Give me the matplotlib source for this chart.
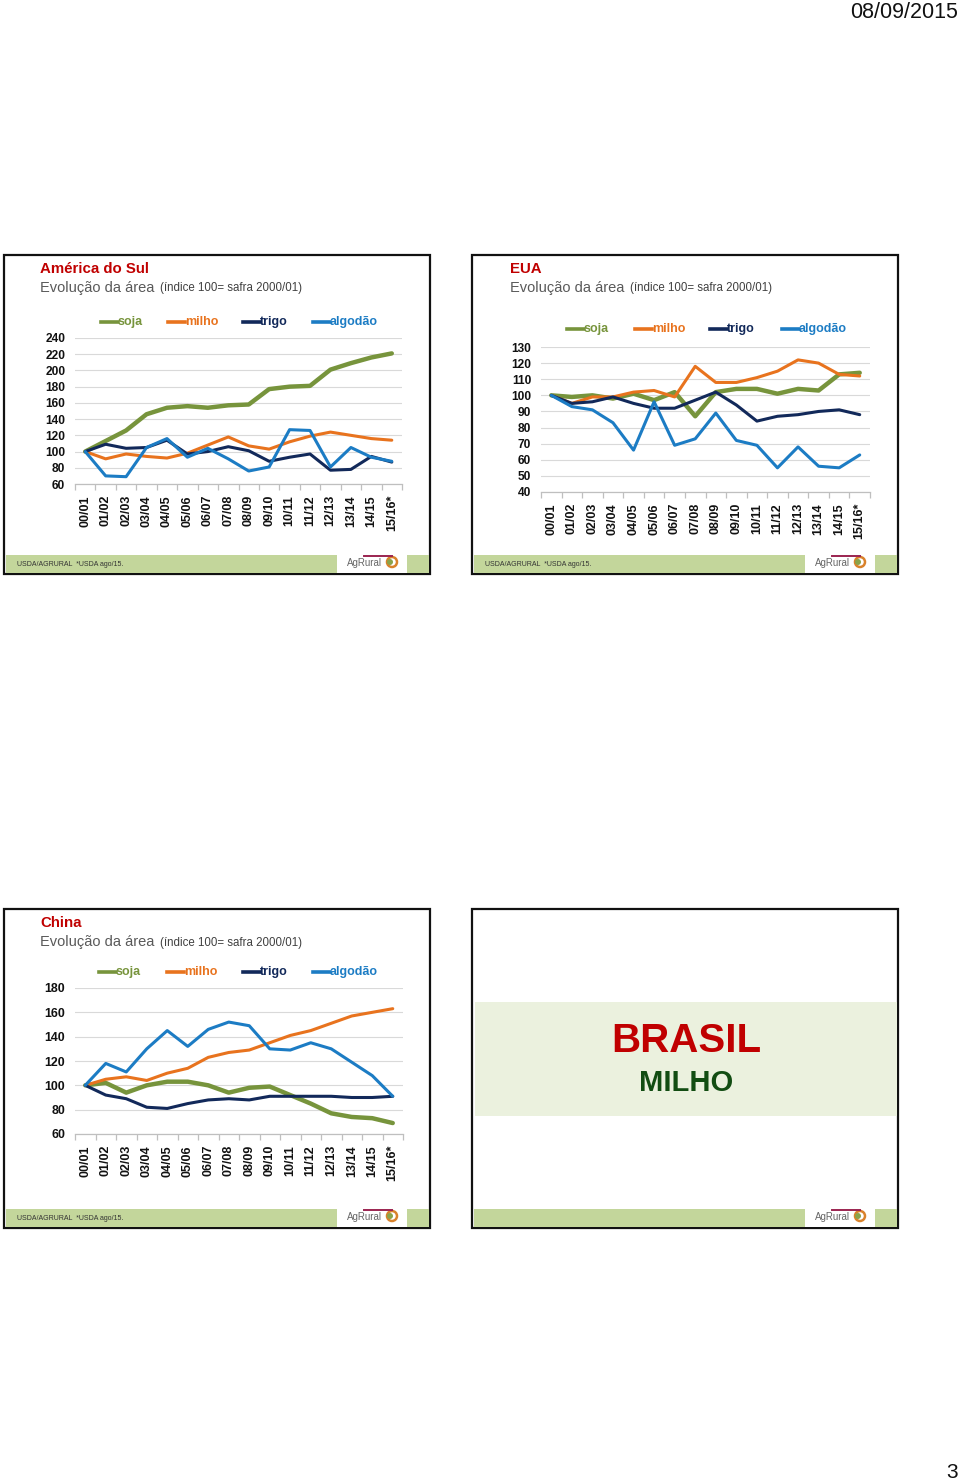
import matplotlib
matplotlib.use('Agg')
import numpy as np
import matplotlib.pyplot as plt
from matplotlib.patches import Rectangle, Ellipse
from matplotlib.lines import Line2D

W, H = 960, 1483
plt.rcParams['font.family'] = ['Liberation Sans', 'DejaVu Sans']

# ---------------- data ----------------
safras = ['00/01', '01/02', '02/03', '03/04', '04/05', '05/06', '06/07', '07/08',
          '08/09', '09/10', '10/11', '11/12', '12/13', '13/14', '14/15', '15/16*']
culturas = ['soja', 'milho', 'trigo', 'algodão']

# América do Sul
as_soja = [100, 113, 126, 146, 154, 156, 154, 157, 158, 177, 180, 181, 201, 209, 216, 221]
as_milho = [100, 91, 97, 94, 92, 98, 108, 118, 107, 103, 112, 119, 124, 120, 116, 114]
as_trigo = [100, 109, 104, 105, 114, 97, 100, 106, 101, 88, 93, 97, 77, 78, 94, 87]
as_algodao = [100, 70, 69, 105, 116, 93, 104, 91, 76, 81, 127, 126, 81, 105, 93, 88]

# EUA
eua_soja = [100, 99, 100, 98, 101, 97, 102, 87, 102, 104, 104, 101, 104, 103, 113, 114]
eua_milho = [100, 95, 99, 99, 102, 103, 99, 118, 108, 108, 111, 115, 122, 120, 113, 112]
eua_trigo = [100, 95, 96, 99, 95, 92, 92, 97, 102, 94, 84, 87, 88, 90, 91, 88]
eua_algodao = [100, 93, 91, 83, 66, 96, 69, 73, 89, 72, 69, 55, 68, 56, 55, 63]

# China
cn_soja = [100, 102, 94, 100, 103, 103, 100, 94, 98, 99, 92, 85, 77, 74, 73, 69]
cn_milho = [100, 105, 107, 104, 110, 114, 123, 127, 129, 135, 141, 145, 151, 157, 160, 163]
cn_trigo = [100, 92, 89, 82, 81, 85, 88, 89, 88, 91, 91, 91, 91, 90, 90, 91]
cn_algodao = [100, 118, 111, 130, 145, 132, 146, 152, 149, 130, 129, 135, 130, 119, 108, 91]

cores = {'soja': '#77943c', 'milho': '#e8731e', 'trigo': '#12295a', 'algodão': '#1c7cc4'}
larguras = {'soja': 3.2, 'milho': 2.2, 'trigo': 2.2, 'algodão': 2.2}

fig = plt.figure(figsize=(W / 100, H / 100), dpi=100)


def fx(x):
    return x / W


def fy(y):
    return 1 - y / H


def rect(x0, y0, x1, y1, **kw):
    fig.add_artist(Rectangle((fx(x0), fy(y1)), (x1 - x0) / W, (y1 - y0) / H,
                             transform=fig.transFigure, **kw))


def slide_frame(ox, oy, nota=True):
    rect(ox, oy, ox + 426, oy + 319, facecolor='white', edgecolor='#111111', lw=1.6, zorder=-3)
    rect(ox + 1.5, oy + 300, ox + 424.5, oy + 317.5, facecolor='#c3d69b', edgecolor='none', zorder=-2)
    rect(ox + 333, oy + 297, ox + 403, oy + 317.5, facecolor='white', edgecolor='none', zorder=-1)
    # logo
    fig.text(fx(ox + 343), fy(oy + 308.5), 'AgRural', fontsize=7, color='#666666',
             ha='left', va='center')
    fig.add_artist(Line2D([fx(ox + 360), fx(ox + 388)], [fy(oy + 301), fy(oy + 301)],
                          color='#9b2450', lw=1.4, transform=fig.transFigure))
    fig.add_artist(Ellipse((fx(ox + 388), fy(oy + 307)), 10 / W, 10 / H, facecolor='none',
                           edgecolor='#d9822b', lw=1.8, transform=fig.transFigure))
    fig.add_artist(Ellipse((fx(ox + 386), fy(oy + 307)), 6 / W, 6 / H, facecolor='#8aa34a',
                           edgecolor='none', transform=fig.transFigure))
    if nota:
        fig.text(fx(ox + 13), fy(oy + 310), 'USDA/AGRURAL  *USDA ago/15.', fontsize=5,
                 color='#333333', ha='left', va='center')


def titulos(x0, regiao, y_title, y_sub):
    fig.text(fx(x0), fy(y_title), regiao, color='#c00000', fontsize=10.8,
             fontweight='bold', ha='left', va='center')
    fig.text(fx(x0), fy(y_sub), 'Evolução da área', color='#595959', fontsize=10.5,
             ha='left', va='center')
    fig.text(fx(x0 + 120), fy(y_sub + 0.5), '(índice 100= safra 2000/01)', color='#404040',
             fontsize=8.3, ha='left', va='center')


def legenda(xs, y):
    for nome, x0 in zip(culturas, xs):
        fig.add_artist(Line2D([fx(x0), fx(x0 + 17)], [fy(y), fy(y)], color=cores[nome],
                              lw=2.6, transform=fig.transFigure))
        fig.text(fx(x0 + 17), fy(y), nome, color=cores[nome], fontsize=9,
                 fontweight='bold', ha='left', va='center')


def grafico(pos, series, ylim, ystep, fs=8.6, xfs=9):
    l, t, r, b = pos
    ax = fig.add_axes([fx(l), fy(b), (r - l) / W, (b - t) / H])
    ax.set_facecolor('none')
    x = np.arange(len(safras))
    for nome, vals in zip(culturas, series):
        ax.plot(x, vals, color=cores[nome], lw=larguras[nome],
                solid_joinstyle='round', solid_capstyle='round', zorder=3)
    ax.set_xlim(-0.5, len(safras) - 0.5)
    ax.set_ylim(*ylim)
    ax.set_yticks(np.arange(ylim[0], ylim[1] + 1, ystep))
    ax.grid(axis='y', color='#d9d9d9', lw=0.8)
    ax.set_axisbelow(True)
    for s in ['top', 'right', 'left']:
        ax.spines[s].set_visible(False)
    ax.spines['bottom'].set_color('#bfbfbf')
    ax.spines['bottom'].set_linewidth(0.9)
    ax.set_xticks(x)
    ax.set_xticklabels(safras, rotation=90, fontweight='bold', fontsize=xfs, color='#111111')
    ax.set_xticks(np.arange(-0.5, len(safras)), minor=True)
    ax.tick_params(axis='x', which='major', length=0, pad=8)
    ax.tick_params(axis='x', which='minor', length=4, color='#bfbfbf', width=0.9)
    ax.tick_params(axis='y', length=0, pad=7, labelsize=fs)
    for lab in ax.get_yticklabels():
        lab.set_fontweight('bold')
        lab.set_color('#111111')
    return ax


# ---------------- slides ----------------
slide_frame(4, 255)
slide_frame(472, 255)
slide_frame(4, 909)
slide_frame(472, 909, nota=False)

# América do Sul
titulos(40, 'América do Sul', 269, 288)
legenda([101, 168, 243, 313], 322)
grafico((75, 338, 402, 484), [as_soja, as_milho, as_trigo, as_algodao], (60, 240), 20)

# EUA
titulos(510, 'EUA', 269, 288)
legenda([567, 635, 710, 782], 329)
grafico((541, 347, 870, 492), [eua_soja, eua_milho, eua_trigo, eua_algodao], (40, 130), 10)

# China
titulos(40, 'China', 923, 942)
legenda([99, 167, 243, 313], 972)
grafico((75, 988, 403, 1134), [cn_soja, cn_milho, cn_trigo, cn_algodao], (60, 180), 20, fs=8.9)

# Brasil milho
rect(475, 1002, 897, 1116, facecolor='#ebf1de', edgecolor='none', zorder=-1)
fig.text(fx(686), fy(1041), 'BRASIL', color='#c00000', fontsize=29, fontweight='bold',
         ha='center', va='center')
fig.text(fx(686), fy(1083), 'MILHO', color='#124d12', fontsize=21, fontweight='bold',
         ha='center', va='center')

# page header / footer
fig.text(fx(958), fy(12), '08/09/2015', fontsize=15.5, color='#111111', ha='right', va='center')
fig.text(fx(952), fy(1473), '3', fontsize=15, color='#111111', ha='center', va='center')

fig.savefig('out.png', dpi=100, facecolor='white')
